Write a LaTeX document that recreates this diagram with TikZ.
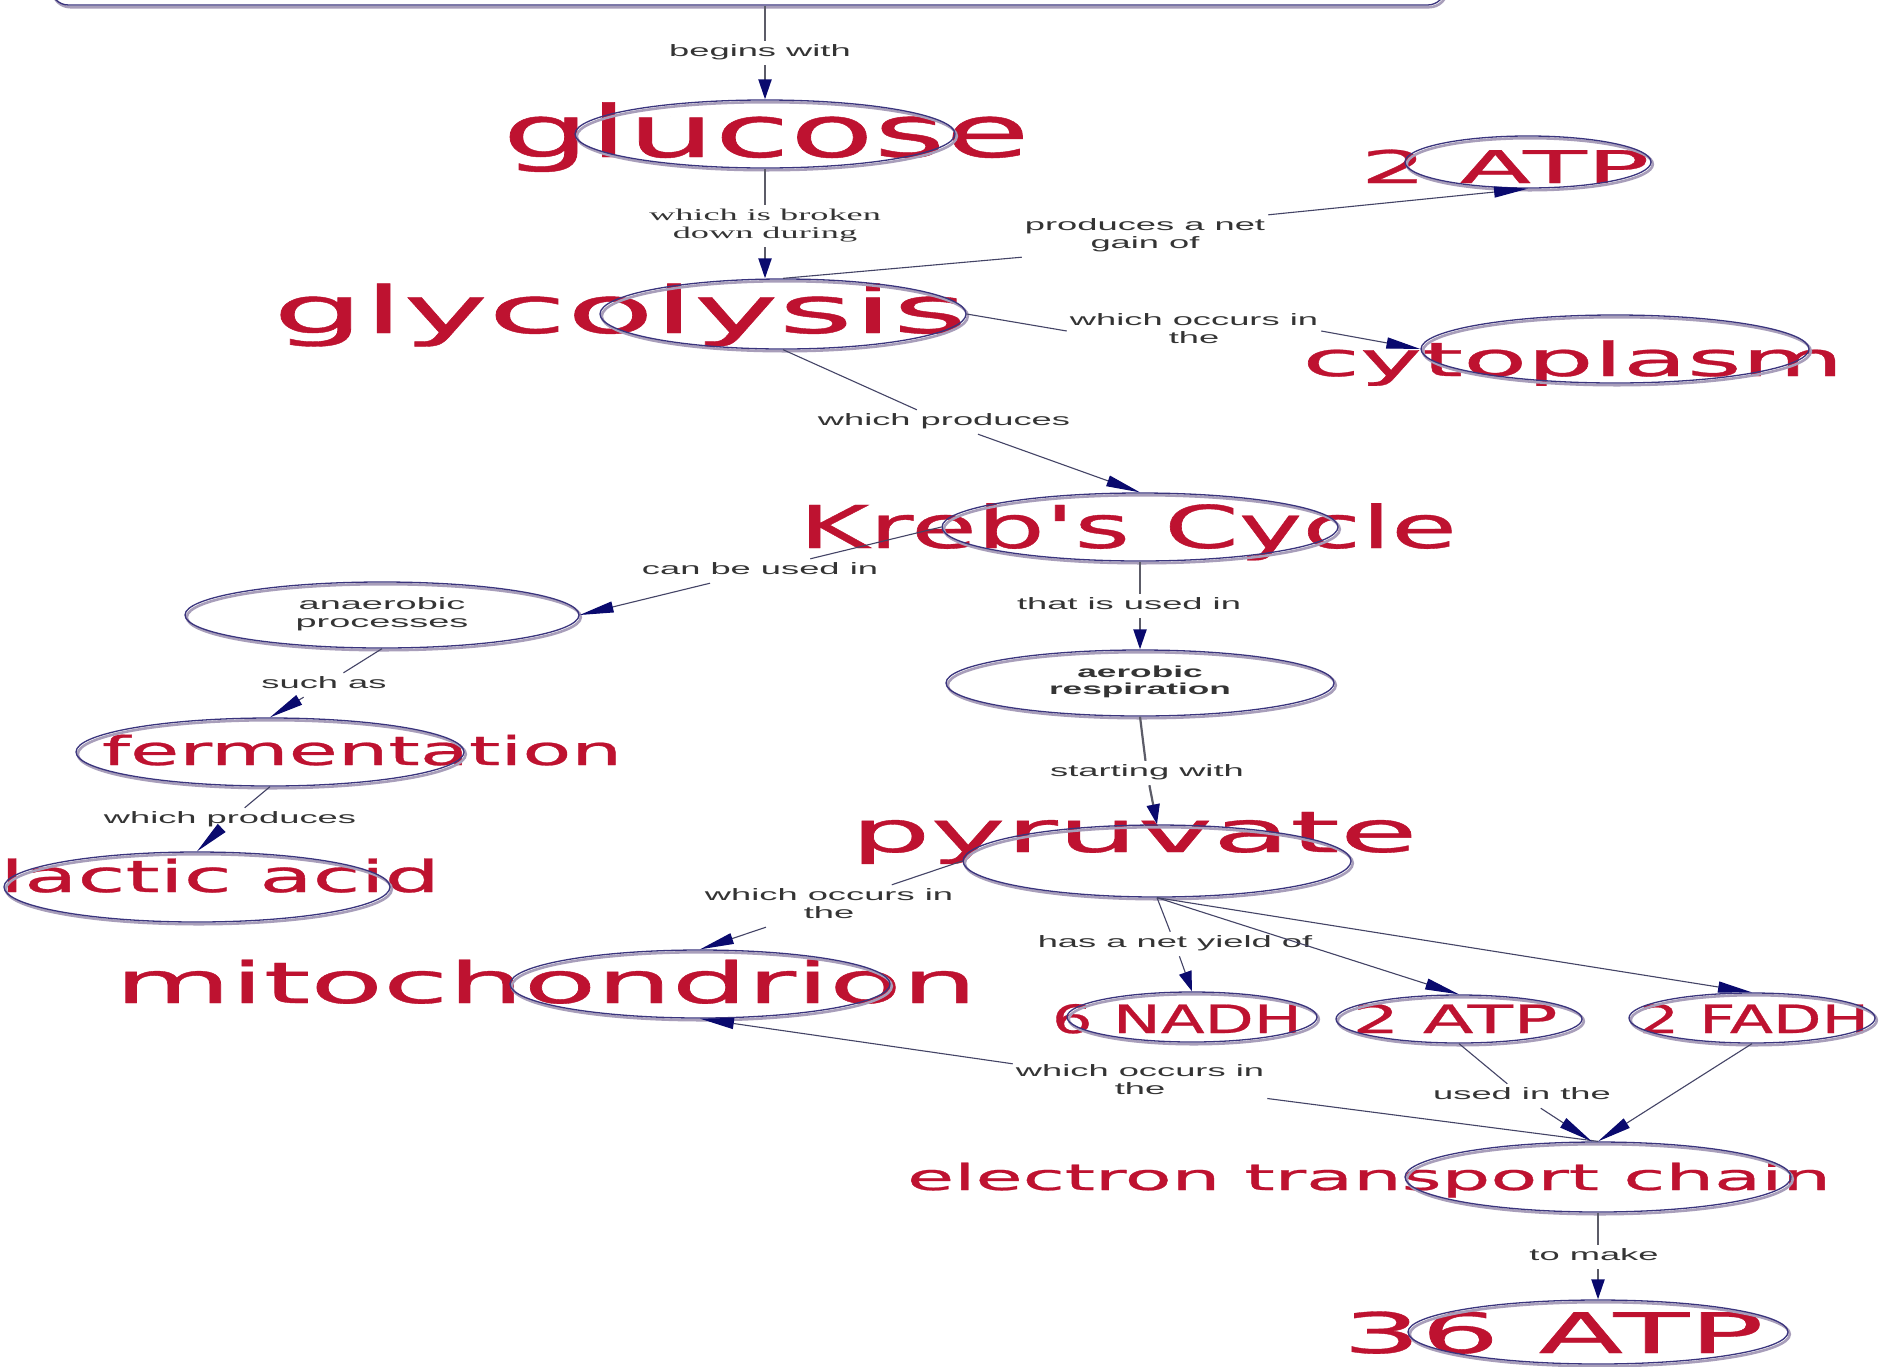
\documentclass[tikz,border=0pt]{standalone}
\usepackage{fontspec}
\usepackage{graphicx}
\usetikzlibrary{shapes.geometric,arrows.meta}
\newfontfamily\redfont[FakeBold=0.6]{DejaVu Sans}
\newfontfamily\labfont{Liberation Sans}
\newfontfamily\serlabfont{Liberation Serif}
\definecolor{redtxt}{RGB}{190,18,48}
\definecolor{ellcol}{RGB}{58,52,125}
\definecolor{shcol}{RGB}{168,158,186}
\definecolor{edgecol}{RGB}{68,68,102}
\definecolor{vedgecol}{RGB}{92,92,104}
\definecolor{arrcol}{RGB}{10,10,110}
\definecolor{labcol}{RGB}{52,52,52}
\newcommand\rtxt[3]{\resizebox{#1pt}{\height}{\fontsize{#2pt}{#2pt}\selectfont #3}}
\newcommand\labtxt[2][2.2]{\scalebox{#1}[1]{\begin{tabular}{@{}c@{}}#2\end{tabular}}}
\begin{document}
\begin{tikzpicture}[x=1pt,y=-1pt,
  shadowed/.style={preaction={draw=shcol, line width=2.6pt, transform canvas={shift={(1.8pt,-2.2pt)}}}},
  ell/.style 2 args={ellipse, inner sep=0pt, minimum width=#1pt, minimum height=#2pt, draw=ellcol, line width=1.3pt, shadowed},
  rt/.style={inner sep=0pt, anchor=base, text=redtxt, font=\redfont},
  lab/.style={inner sep=3pt, text=labcol, font=\labfont\fontsize{16.5pt}{18pt}\selectfont},
  e/.style={draw=edgecol, line width=1.1pt},
  ev/.style={draw=vedgecol, line width=2.2pt},
  ar/.style={-{Triangle[length=34pt,width=11pt,color=arrcol]}},
  arv/.style={-{Triangle[length=20pt,width=13pt,color=arrcol]}}]
\useasboundingbox (0,0) rectangle (1890,1366);
\clip (0,0) rectangle (1890,1366);
\fill[white] (0,0) rectangle (1890,1366);

% big red concept texts
\node[rt] (tglu)  at (766,157)  {\rtxt{527}{72}{glucose}};
\node[rt] (tgly)  at (620,333)  {\rtxt{694}{65}{glycolysis}};
\node[rt] (tatpA) at (1505,183) {\rtxt{289}{45}{2 ATP}};
\node[rt] (tcyto) at (1573,376) {\rtxt{541}{47}{cytoplasm}};
\node[rt] (tkreb) at (1128,548) {\rtxt{658}{59}{Kreb\textquotesingle s Cycle}};
\node[rt] (tferm) at (362,765)  {\rtxt{520}{40}{fermentation}};
\node[rt] (tlact) at (220,892)  {\rtxt{440}{44}{lactic acid}};
\node[rt] (tpyr)  at (1134,852) {\rtxt{567}{57}{pyruvate}};
\node[rt] (tmito) at (546,1003) {\rtxt{862}{57}{mitochondrion}};
\node[rt] (tnadh) at (1177,1033) {\rtxt{250}{39}{6 NADH}};
\node[rt] (tatpB) at (1455,1033) {\rtxt{205}{39}{2 ATP}};
\node[rt] (tfadh) at (1754,1033) {\rtxt{230}{39}{2 FADH}};
\node[rt] (tetc)  at (1369,1190) {\rtxt{924}{36}{electron transport chain}};
\node[rt] (tatpC) at (1553,1353) {\rtxt{421}{56}{36 ATP}};

% top box
\node[draw=ellcol, line width=1.3pt, rounded corners=18pt, inner sep=0pt,
      minimum width=1395pt, minimum height=100pt, shadowed] (topbox) at (748,-45) {};

% ellipses
\node[ell={380}{68}] (glu)  at (765,134)  {};
\node[ell={366}{70}] (gly)  at (783,314)  {};
\node[ell={246}{52}] (atpA) at (1528,162) {};
\node[ell={388}{68}] (cyto) at (1615,349) {};
\node[ell={396}{68}] (kreb) at (1140,527) {};
\node[ell={394}{66}, text=labcol, font=\labfont\fontsize{16.5pt}{18pt}\selectfont] (anae) at (382,615) {\labtxt[2.3]{anaerobic\\processes}};
\node[ell={388}{66}, text=labcol, font=\labfont\bfseries\fontsize{16pt}{17pt}\selectfont] (aero) at (1140,683) {\labtxt{aerobic\\respiration}};
\node[ell={388}{68}] (ferm) at (270,752)  {};
\node[ell={386}{70}] (lact) at (197,887)  {};
\node[ell={388}{72}] (pyr)  at (1157,861) {};
\node[ell={380}{68}] (mito) at (700,984)  {};
\node[ell={250}{50}] (nadh) at (1192,1017) {};
\node[ell={246}{48}] (atpB) at (1459,1019) {};
\node[ell={246}{50}] (fadh) at (1752,1018) {};
\node[ell={386}{70}] (etc)  at (1598,1177) {};
\node[ell={380}{64}] (atpC) at (1598,1332) {};

% linking phrases
\node[lab] (l1)  at (760,53)    {\labtxt{begins with}};
\node[lab, font=\serlabfont\fontsize{16.5pt}{18pt}\selectfont] (l2) at (765,226) {\labtxt{which is broken\\down during}};
\node[lab] (l3)  at (1145,236)  {\labtxt{produces a net\\gain of}};
\node[lab] (l4)  at (1194,331)  {\labtxt{which occurs in\\the}};
\node[lab] (l5)  at (944,422)   {\labtxt{which produces}};
\node[lab] (l6)  at (760,571)   {\labtxt{can be used in}};
\node[lab] (l7)  at (1129,606)  {\labtxt{that is used in}};
\node[lab] (l8)  at (324,685)   {\labtxt{such as}};
\node[lab] (l9)  at (1147,773)  {\labtxt{starting with}};
\node[lab] (l10) at (230,820)   {\labtxt{which produces}};
\node[lab] (l11) at (829,906)   {\labtxt{which occurs in\\the}};
\node[lab] (l12) at (1175,944)  {\labtxt{has a net yield of}};
\node[lab] (l13) at (1140,1082) {\labtxt{which occurs in\\the}};
\node[lab] (l14) at (1522,1096) {\labtxt{used in the}};
\node[lab] (l15) at (1594,1257) {\labtxt{to make}};

% connectors
\draw[ev] (topbox.south -| glu.north) -- (l1.north -| glu.north);
\draw[ev,arv] (l1.south -| glu.north) -- (glu.north);
\draw[ev] (glu.south) -- (l2.north -| glu.south);
\draw[ev,arv] (l2.south -| glu.south) -- (gly.north -| glu.south);
\draw[e] (gly.north) -- (l3.south west);
\draw[e,ar] (l3.north east) -- (atpA.south);
\draw[e] (gly.east) -- (l4.west);
\draw[e,ar] (l4.east) -- (cyto.west);
\draw[e] (gly.south) -- (l5);
\draw[e,ar] (l5) -- (kreb.north);
\draw[e] (kreb.west) -- (l6);
\draw[e,ar] (l6) -- (anae.east);
\draw[ev] (kreb.south) -- (l7.north -| kreb.south);
\draw[ev,arv] (l7.south -| kreb.south) -- (aero.north);
\draw[e] (anae.south) -- (l8);
\draw[e,ar] (l8) -- (ferm.north);
\draw[e] (ferm.south) -- (l10);
\draw[e,ar] (l10) -- (lact.north);
\draw[ev] (aero.south) -- (l9);
\draw[ev,arv] (l9) -- (pyr.north);
\draw[e] (pyr.west) -- (l11);
\draw[e,ar] (l11) -- (mito.north);
\draw[e] (pyr.south) -- (l12);
\draw[e,arv] (l12) -- (nadh.north);
\draw[e,ar] (pyr.south) -- (atpB.north);
\draw[e,ar] (pyr.south) -- (fadh.north);
\draw[e] (etc.north) -- (l13);
\draw[e,ar] (l13) -- (mito.south);
\draw[e] (atpB.south) -- (l14);
\draw[e,ar] (l14) -- (etc.100);
\draw[e,ar] (fadh.south) -- (etc.north);
\draw[ev] (etc.south) -- (l15.north -| etc.south);
\draw[ev,arv] (l15.south -| etc.south) -- (atpC.north);
\end{tikzpicture}
\end{document}
